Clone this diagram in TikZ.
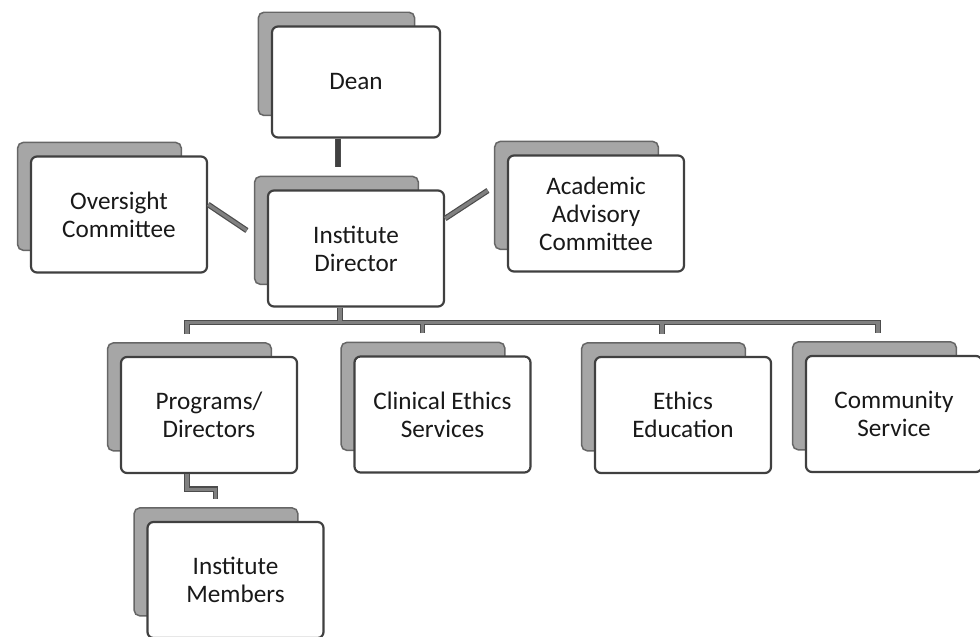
\documentclass[tikz,border=0pt]{standalone}
\usepackage{fontspec}
\setmainfont{Carlito}
\usetikzlibrary{shadows}

\begin{document}
\begin{tikzpicture}[
    x=0.5pt, y=-0.5pt,
    unit/.style={draw=black!75, line width=1.1pt, fill=white, rounded corners=3pt,
      minimum width=88pt, minimum height=58pt, align=center, text=black!90,
      font=\fontsize{12.6}{14}\selectfont,
      copy shadow={shadow xshift=-10.5pt, shadow yshift=9.75pt, shadow scale=0.93,
        fill=black!35, draw=black!60, line width=0.8pt}},
    link/.style={draw=black!70, line width=0.6pt, double=black!50, double distance=1.6pt}
  ]
    \useasboundingbox (0,0) rectangle (980,637);

    \node[unit, minimum width=84pt, minimum height=55.5pt] (dean) at (356,82) {Dean};
    \node[unit] (director) at (356,248.5) {Institute\\Director};
    \node[unit] (oversight) at (119,214.5) {Oversight\\Committee};
    \node[unit] (advisory) at (596,213.5) {Academic\\Advisory\\Committee};

    \node[unit] (programs) at (209,415) {Programs/\\Directors};
    \node[unit] (clinical) at (442.5,414.5) {Clinical Ethics\\Services};
    \node[unit] (education) at (683,415) {Ethics\\Education};
    \node[unit] (community) at (894,414) {Community\\Service};
    \node[unit] (members) at (235.5,580) {Institute\\Members};

    \draw[link, double=black!75] ([xshift=-9pt]dean.south) -- ([xshift=-9pt,yshift=11pt]director.north);
    \draw[link] ([yshift=5pt]oversight.east) -- ([xshift=-10pt,yshift=9pt]director.west);
    \draw[link] ([yshift=15pt]director.east) -- ([xshift=-9.5pt,yshift=11.5pt]advisory.west);

    % bus to the four units
    \draw[link] ([xshift=-8pt]director.south) -- ++(0,15) coordinate (bus)
      ([xshift=-11pt,yshift=11pt]programs.north) |- (bus) -| ([xshift=-8pt,yshift=11pt]community.north)
      ([xshift=-10pt,yshift=11pt]clinical.north) |- (bus)
      ([xshift=-10.5pt,yshift=11pt]education.north) |- (bus);

    \draw[link] ([xshift=-11pt]programs.south) -- ++(0,15) -| ([xshift=-10pt,yshift=11pt]members.north);
\end{tikzpicture}
\end{document}
